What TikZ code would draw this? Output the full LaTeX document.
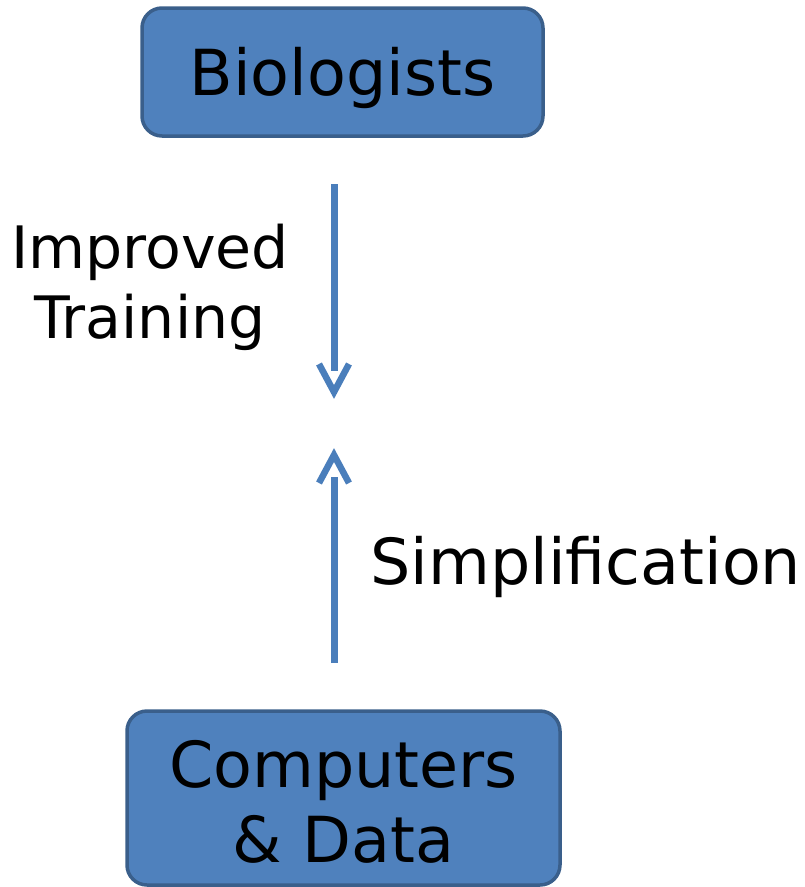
\documentclass[tikz,border=0pt]{standalone}
\usepackage{fontspec}
\setmainfont{DejaVu Sans}
\definecolor{boxfill}{HTML}{4F81BD}
\definecolor{boxedge}{HTML}{3A5F8B}
\definecolor{flow}{HTML}{4A7EBB}
\tikzset{
  actor/.style={draw=boxedge, fill=boxfill, line width=3.5pt, rounded corners=20pt,
    inner sep=0pt},
  actortext/.style={align=center, inner sep=0pt, font=\fontsize{63.5}{75}\selectfont},
  shaft/.style={draw=flow, line width=7pt},
  barb/.style={draw=flow, line width=6.5pt, miter limit=10},
  caption/.style={align=center, inner sep=0pt}
}
\begin{document}
\begin{tikzpicture}[x=1pt, y=-1pt]
  \useasboundingbox (0,0) rectangle (805,887);
  % the two rounded boxes and their labels
  \node[actor, minimum width=401pt, minimum height=128pt] (bio) at (342.5,72) {};
  \node[actortext] (biotext) at ([yshift=-6pt]bio.center) {Biologists};
  \node[actor, minimum width=433pt, minimum height=174pt] (comp) at (343.5,798) {};
  \node[actortext] (comptext) at ([yshift=-4pt]comp.center) {Computers\\\& Data};
  % downward arrow: shaft and open head
  \coordinate (dstart) at (334,184);
  \coordinate (dshaft) at (334,371);
  \coordinate (dtip) at (334,392);
  \coordinate (dl) at (319,364);
  \coordinate (dr) at (349,364);
  \draw[shaft] (dstart) -- (dshaft);
  \draw[barb] (dl) -- (dtip) -- (dr);
  % upward arrow: shaft and open head
  \coordinate (ustart) at (334,663);
  \coordinate (ushaft) at (334,477);
  \coordinate (utip) at (334,455);
  \coordinate (ul) at (319,483);
  \coordinate (ur) at (349,483);
  \draw[shaft] (ustart) -- (ushaft);
  \draw[barb] (ul) -- (utip) -- (ur);
  \node[caption, font=\fontsize{58.5}{70}\selectfont] (train) at (150,287) {Improved\\Training};
  \node[caption, anchor=west, font=\fontsize{63.5}{75}\selectfont] (simp) at (370,567) {Simplification};
\end{tikzpicture}
\end{document}
